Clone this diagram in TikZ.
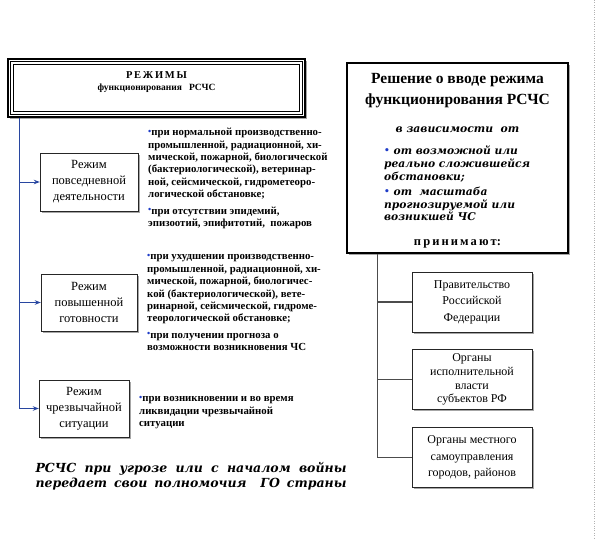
\documentclass[tikz,border=0pt]{standalone}
\usepackage{fontspec}
\setmainfont{Liberation Serif}
\newfontfamily\bookfont{DejaVu Serif}
\usetikzlibrary{arrows.meta,shadows}
\definecolor{linkblue}{RGB}{40,70,160}
\definecolor{bullblue}{RGB}{30,60,200}
\newcommand{\blt}{{\color{bullblue}\raisebox{0.3ex}{\small\textbullet}}}
\tikzset{
  shad/.style={drop shadow={shadow xshift=2pt,shadow yshift=-2pt,fill=black!35,opacity=1}},
  rezbox/.style={draw=black!85,fill=white,align=center,inner sep=0pt,shad,
    font=\fontsize{12.5}{16}\selectfont},
  orgbox/.style={draw=black!85,fill=white,align=center,inner sep=0pt,shad,
    minimum width=120pt,minimum height=60pt,font=\fontsize{12}{16.5}\selectfont},
  usl/.style={anchor=north west,align=left,inner sep=0pt,
    font=\bfseries\fontsize{10.8}{12.4}\selectfont},
}
\begin{document}
\begin{tikzpicture}[x=1pt,y=-1pt]
  \useasboundingbox (0,0) rectangle (598,540);
  \draw[black!30,dotted] (594,0) -- (594,538);
  \draw
    (156.5,88) node[draw,line width=1.2pt,fill=white,shad,minimum width=297pt,minimum height=58pt] (rez){}
    (156.5,82) node[align=center,font=\bfseries] (reztxt){%
      {\fontsize{10.5}{12.5}\selectfont Р\,Е\,Ж\,И\,М\,Ы}\\
      {\fontsize{9.5}{11}\selectfont функционирования\ \ \ РСЧС}}
    (89,182) node[rezbox,minimum width=98pt,minimum height=58pt] (pov){Режим\\повседневной\\деятельности}
    (89,302.5) node[rezbox,minimum width=96pt,minimum height=57pt] (gotov){Режим\\повышенной\\готовности}
    (84,408.5) node[rezbox,minimum width=90pt,minimum height=57pt] (chs){Режим\\чрезвычайной\\ситуации}
    (148,128) node[usl] (usl1){\blt при нормальной производственно-\\
      промышленной, радиационной, хи-\\
      мической, пожарной, биологической\\
      (бактериологической), ветеринар-\\
      ной, сейсмической, гидрометеоро-\\
      логической обстановке;\\[4pt]
      \blt при отсутствии эпидемий,\\
      эпизоотий, эпифитотий,\ \ пожаров}
    (147,254) node[usl] (usl2){\blt при ухудшении производственно-\\
      промышленной, радиационной, хи-\\
      мической, пожарной, биологичес-\\
      кой (бактериологической), вете-\\
      ринарной, сейсмической, гидроме-\\
      теорологической обстановке;\\[4pt]
      \blt при получении прогноза о\\
      возможности возникновения ЧС}
    (139,396) node[usl] (usl3){\blt при возникновении и во время\\
      ликвидации чрезвычайной\\
      ситуации}
    (191,476) node[inner sep=0pt,align=left,font=\bookfont\bfseries\itshape\fontsize{12.5}{14.5}\selectfont] (vojna){%
      \makebox[311pt][s]{РСЧС при угрозе или с началом войны}\\
      \makebox[311pt][s]{передает свои полномочия\ \ ГО страны}};
  \draw
    (457.5,158) node[draw,line width=1.6pt,fill=white,shad,minimum width=221pt,minimum height=190pt] (resh){}
    (457.5,91) node[align=center,font=\bfseries\fontsize{15.5}{21}\selectfont] (reshtxt){Решение о вводе режима\\функционирования РСЧС}
    (457.5,130) node[font=\bookfont\bfseries\itshape\fontsize{10.8}{12}\selectfont] (zavis){в зависимости\ \ от}
    (384,146) node[anchor=north west,align=left,inner sep=0pt,font=\bookfont\bfseries\itshape\fontsize{10.7}{12.6}\selectfont] (ot){%
      \blt\ от возможной или\\
      реально сложившейся\\
      обстановки;\\[3pt]
      \blt\ от\ \ масштаба\\
      прогнозируемой или\\
      возникшей ЧС}
    (457.5,244) node[font=\bfseries\fontsize{12.5}{14}\selectfont] (prin){п\,р\,и\,н\,и\,м\,а\,ю\,т:}
    (472,302) node[orgbox] (prav){Правительство\\Российской\\Федерации}
    (472,379.5) node[orgbox,font=\fontsize{12}{13.7}\selectfont] (isp){Органы\\исполнительной\\власти\\субъектов РФ}
    (472,457.5) node[orgbox] (mest){Органы местного\\самоуправления\\городов, районов};
  \coordinate (ltop) at ([xshift=12pt]rez.south west);
  \coordinate (rtop) at ([xshift=31pt]resh.south west);
  \begin{scope}[linkblue,line width=0.9pt,-{Stealth[length=6pt,width=4.5pt]}]
    \draw (ltop) |- (pov.west);
    \draw (ltop) |- (gotov.west);
    \draw (ltop) |- (chs.west);
  \end{scope}
  \begin{scope}[black!70,line width=1.2pt]
    \draw (rtop) |- (prav.west);
    \draw (rtop) |- (isp.west);
    \draw (rtop) |- (mest.west);
  \end{scope}
  \draw[line width=0.6pt] ([shift={(3pt,-3pt)}]rez.north west) rectangle ([shift={(-3pt,3pt)}]rez.south east);
  \draw[line width=0.4pt] ([shift={(6pt,-6pt)}]rez.north west) rectangle ([shift={(-6pt,6pt)}]rez.south east);
\end{tikzpicture}
\end{document}
